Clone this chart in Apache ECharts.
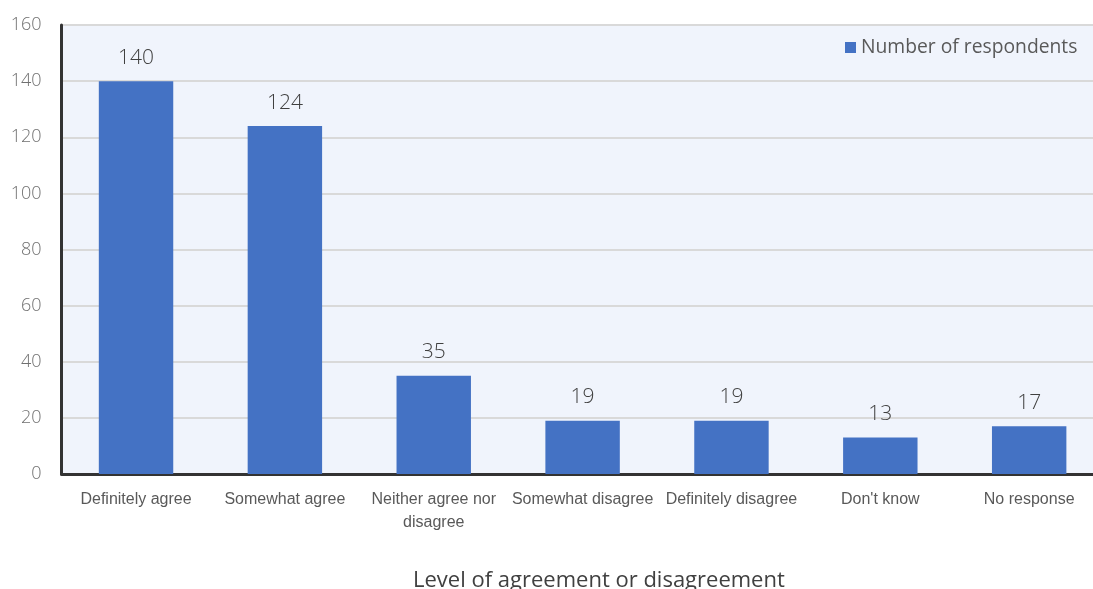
<!DOCTYPE html>
<html>
<head>
<meta charset="utf-8">
<script src="https://cdn.jsdelivr.net/npm/echarts@6/dist/echarts.min.js"></script>
<style>
html,body{margin:0;padding:0;background:#fff;overflow:hidden;width:1093px;height:589px;}
#chart{width:1110px;height:589px;}
</style>
</head>
<body>
<div id="chart"></div>
<script>
const categories = ["Definitely agree", "Somewhat agree", "Neither agree nor\ndisagree", "Somewhat disagree", "Definitely disagree", "Don't know", "No response"];
const respondents = [140, 124, 35, 19, 19, 13, 17];
const seriesName = "Number of respondents";
const axisTitle = "Level of agreement or disagreement";
const yMin = 0, yMax = 160, yStep = 20;

const chart = echarts.init(document.getElementById('chart'));
chart.setOption({
  animation: false,
  backgroundColor: '#ffffff',
  title: {
    text: axisTitle,
    left: 408,
    top: 565,
    textStyle: { fontFamily: 'Open Sans', fontSize: 22, fontWeight: 'normal', color: '#404040' }
  },
  legend: {
    data: [seriesName],
    left: 840,
    top: 33,
    itemWidth: 11,
    itemHeight: 11,
    itemGap: 8,
    icon: 'rect',
    textStyle: { fontFamily: 'Open Sans', fontSize: 19.3, color: '#595959' }
  },
  grid: {
    left: 61.6,
    top: 25,
    width: 1042,
    bottom: 115,
    show: true,
    backgroundColor: '#F0F4FC',
    borderWidth: 0,
    containLabel: false
  },
  xAxis: {
    type: 'category',
    data: categories,
    axisLine: { show: true, lineStyle: { color: '#333333', width: 3 } },
    axisTick: { show: false },
    axisLabel: {
      interval: 0,
      margin: 14,
      fontFamily: 'Liberation Sans',
      fontSize: 16,
      lineHeight: 23,
      color: '#595959'
    }
  },
  yAxis: {
    type: 'value',
    min: yMin,
    max: yMax,
    interval: yStep,
    axisLine: { show: true, lineStyle: { color: '#333333', width: 3 } },
    axisTick: { show: false },
    splitLine: { show: true, lineStyle: { color: '#D9D9D9', width: 2 } },
    axisLabel: {
      margin: 20,
      fontFamily: 'Open Sans',
      fontWeight: 300,
      fontSize: 18,
      color: '#707070'
    }
  },
  series: [{
    name: seriesName,
    type: 'bar',
    data: respondents,
    barWidth: '50%',
    itemStyle: { color: '#4472C4' },
    label: {
      show: true,
      position: 'top',
      distance: 13,
      fontFamily: 'Open Sans',
      fontWeight: 300,
      fontSize: 21,
      color: '#404040'
    }
  }]
});
</script>
</body>
</html>
